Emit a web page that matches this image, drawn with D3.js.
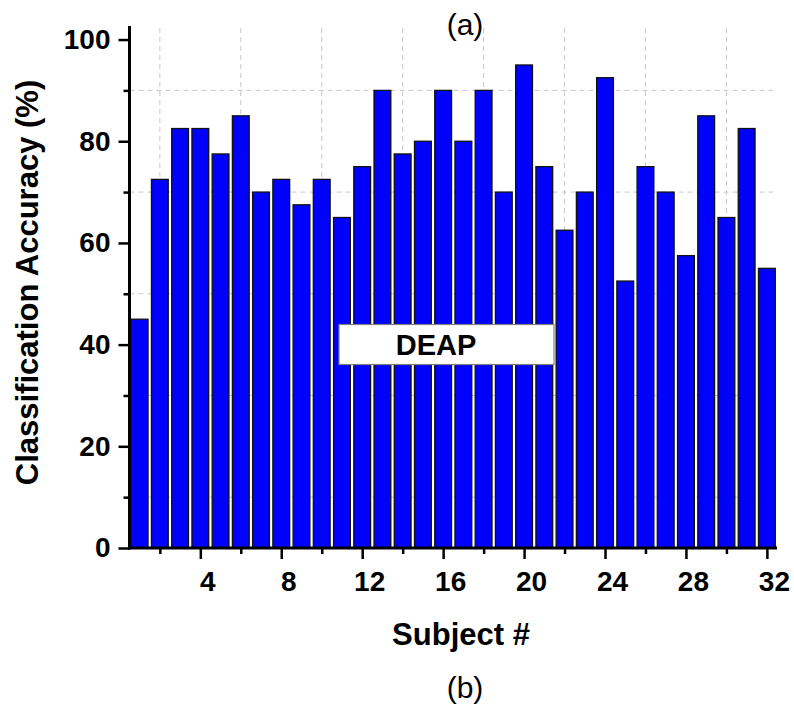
<!DOCTYPE html>
<html>
<head>
<meta charset="utf-8">
<script src="https://cdn.jsdelivr.net/npm/d3@7"></script>
<style>
  html, body { margin: 0; padding: 0; background: #fff; }
  svg { display: block; font-family: "Liberation Sans", Arial, sans-serif; }
</style>
</head>
<body>
<svg id="chart" width="794" height="706"></svg>
<script>
// Per-subject classification accuracy on DEAP
const subjects = d3.range(1, 33);
const accuracy = [45, 72.5, 82.5, 82.5, 77.5, 85, 70, 72.5, 67.5, 72.5,
                  65, 75, 90, 77.5, 80, 90, 80, 90, 70, 95,
                  75, 62.5, 70, 92.5, 52.5, 75, 70, 57.5, 85, 65,
                  82.5, 55];
const xMajorTicks = [4, 8, 12, 16, 20, 24, 28, 32];
const xMinorTicks = [2, 6, 10, 14, 18, 22, 26, 30];
const yMajorTicks = [0, 20, 40, 60, 80, 100];
const yMinorTicks = [10, 30, 50, 70, 90];
const datasetLabel = "DEAP";

const svg = d3.select("#chart");
const plotLeft = 129.5, plotRight = 777, plotBottom = 548, plotTop = 24.3;

const x = d3.scaleLinear().domain([0.5, 32.5]).range([plotLeft, plotRight]);
const y = d3.scaleLinear().domain([0, 103]).range([plotBottom, plotTop]);
const step = x(2) - x(1);

// Dashed grid on minor ticks
const grid = svg.append("g");
grid.selectAll("line.gy").data(yMinorTicks).join("line")
  .attr("x1", plotLeft).attr("x2", 773)
  .attr("y1", d => y(d)).attr("y2", d => y(d))
  .attr("stroke", "#c8c8c8").attr("stroke-width", 1).attr("stroke-dasharray", "5,4");
grid.selectAll("line.gx").data(xMinorTicks).join("line")
  .attr("x1", d => x(d)).attr("x2", d => x(d))
  .attr("y1", 28).attr("y2", plotBottom)
  .attr("stroke", "#c8c8c8").attr("stroke-width", 1).attr("stroke-dasharray", "5,4");

// Bars
const barW = step * 0.83;
svg.append("g").selectAll("rect").data(subjects).join("rect")
  .attr("x", d => x(d) - barW / 2)
  .attr("width", barW)
  .attr("y", (d, i) => y(accuracy[i]))
  .attr("height", (d, i) => plotBottom - y(accuracy[i]))
  .attr("fill", "#0000ff")
  .attr("stroke", "#111")
  .attr("stroke-width", 1.3);

// Axes
const tickFont = "bold 28px 'Liberation Sans', Arial, sans-serif";

const yAxis = svg.append("g").attr("transform", `translate(${plotLeft},0)`)
  .call(d3.axisLeft(y).tickValues(yMajorTicks).tickSize(11).tickPadding(8));
const yMinor = svg.append("g").attr("transform", `translate(${plotLeft},0)`)
  .call(d3.axisLeft(y).tickValues(yMinorTicks).tickSize(6).tickFormat(""));

const xAxis = svg.append("g").attr("transform", `translate(0,${plotBottom})`)
  .call(d3.axisBottom(x).tickValues(xMajorTicks).tickSize(11).tickPadding(12));
const xMinor = svg.append("g").attr("transform", `translate(0,${plotBottom})`)
  .call(d3.axisBottom(x).tickValues(xMinorTicks).tickSize(6).tickFormat(""));

[yAxis, yMinor, xAxis, xMinor].forEach(g => {
  g.select(".domain").remove();
  g.selectAll(".tick line").attr("stroke", "#000").attr("stroke-width", 2.5);
  g.selectAll(".tick text").style("font", tickFont).attr("fill", "#000");
});
// Subject numbers sit slightly right of their ticks
xAxis.selectAll(".tick text").attr("dx", 7);

// Axis lines
svg.append("line").attr("x1", plotLeft).attr("x2", plotLeft).attr("y1", 26).attr("y2", plotBottom + 1.5)
  .attr("stroke", "#000").attr("stroke-width", 3);
svg.append("line").attr("x1", plotLeft - 1.5).attr("x2", plotRight).attr("y1", plotBottom).attr("y2", plotBottom)
  .attr("stroke", "#000").attr("stroke-width", 3);

// Dataset label box
const box = svg.append("g");
box.append("rect").attr("x", 339).attr("y", 324.5).attr("width", 215).attr("height", 40)
  .attr("fill", "#fff").attr("stroke", "#808080").attr("stroke-width", 1.2);
box.append("text").attr("x", 436).attr("y", 355).attr("text-anchor", "middle")
  .style("font", "bold 29px 'Liberation Sans', Arial, sans-serif").text(datasetLabel);

// Titles
svg.append("text").attr("x", 465).attr("y", 35).attr("text-anchor", "middle")
  .style("font", "30px 'Liberation Sans', Arial, sans-serif").text("(a)");
svg.append("text").attr("x", 461).attr("y", 645).attr("text-anchor", "middle")
  .style("font", "bold 31px 'Liberation Sans', Arial, sans-serif").text("Subject #");
svg.append("text").attr("x", 465).attr("y", 698).attr("text-anchor", "middle")
  .style("font", "30px 'Liberation Sans', Arial, sans-serif").text("(b)");
svg.append("text").attr("transform", "translate(37.5,282.5) rotate(-90)")
  .attr("text-anchor", "middle")
  .style("font", "bold 31px 'Liberation Sans', Arial, sans-serif")
  .text("Classification Accuracy (%)");
</script>
</body>
</html>
